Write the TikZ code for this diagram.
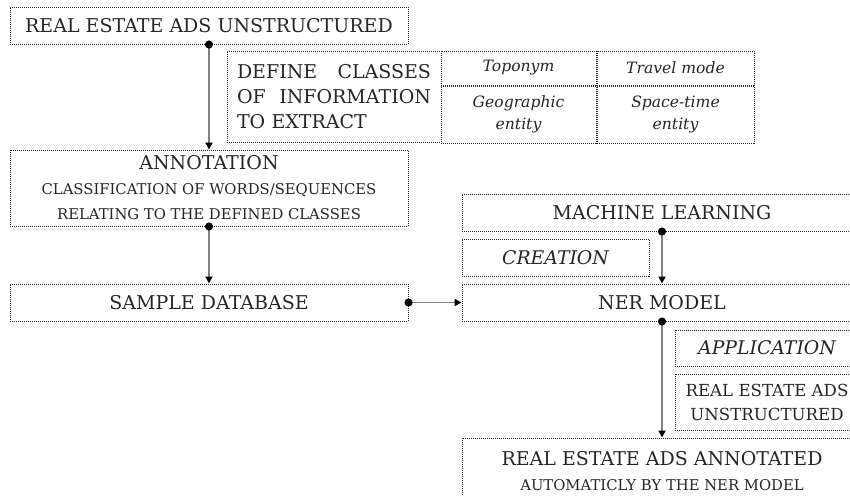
\documentclass[tikz,border=0pt]{standalone}
\usepackage{fontspec}
\setmainfont{DejaVu Serif}
\usetikzlibrary{arrows.meta,positioning}
\tikzset{
    dotted-box/.style = {draw=black!85, text=black!85, line width=0.5pt, dash pattern=on 0.5pt off 0.5pt, rectangle, inner sep=0pt, align=center, font=\fontsize{9.5}{12.5}\selectfont},
    cell-text/.style = {dotted-box, font=\fontsize{7.8}{11}\selectfont\itshape},
    flow-arrow/.style = {draw=black!50, line width=0.9pt, {Circle[black,length=4pt]}-{Triangle[black,length=3.5pt,width=3.5pt]}, shorten <=-2pt},
}
\newcommand{\subline}[1]{{\fontsize{7.4}{10.5}\selectfont #1}}

\begin{document}
\begin{tikzpicture}[x=0.5pt,y=-0.5pt]
\useasboundingbox (0,0) rectangle (850,495);
\clip (0,0) rectangle (850,495);

% left column
\node[dotted-box, minimum width=199pt, minimum height=18.5pt] (ads-raw) at (209,25.5) {REAL ESTATE ADS UNSTRUCTURED};
\node[dotted-box, minimum width=107pt, minimum height=45.5pt, text width=97pt, align=left] (classes) at (334,96.5) {DEFINE\hfill CLASSES\\OF\hfill INFORMATION\\TO EXTRACT};
\node[dotted-box, minimum width=199pt, minimum height=38pt] (annotation) at (209,188) {ANNOTATION\\ \subline{CLASSIFICATION OF WORDS/SEQUENCES}\\ \subline{RELATING TO THE DEFINED CLASSES}};
\node[dotted-box, minimum width=199pt, minimum height=18.5pt] (sample) at (209,302.5) {SAMPLE DATABASE};

% classes table
\node[cell-text, minimum width=77.5pt, minimum height=17pt] (toponym) at (518.5,68) {Toponym};
\node[cell-text, minimum width=78.5pt, minimum height=17pt, right=0pt of toponym] (travel) {Travel mode};
\node[cell-text, minimum width=77.5pt, minimum height=28.5pt, below=0pt of toponym] (geo) {Geographic\\entity};
\node[cell-text, minimum width=78.5pt, minimum height=28.5pt, below=0pt of travel] (spacetime) {Space-time\\entity};

% right column
\node[dotted-box, minimum width=200pt, minimum height=18.5pt] (ml) at (662,212.5) {MACHINE LEARNING};
\node[dotted-box, minimum width=93.5pt, minimum height=18.5pt, font=\fontsize{9.4}{12}\selectfont\itshape] (creation) at (555.5,257.5) {CREATION};
\node[dotted-box, minimum width=200pt, minimum height=18.5pt] (ner) at (662,302.5) {NER MODEL};
\node[dotted-box, minimum width=92pt, minimum height=18pt, font=\fontsize{9.4}{12}\selectfont\itshape] (application) at (767,348) {APPLICATION};
\node[dotted-box, minimum width=92pt, minimum height=28pt, font=\fontsize{8.3}{12}\selectfont] (ads-new) at (767,402) {REAL ESTATE ADS\\UNSTRUCTURED};
\node[dotted-box, minimum width=200pt, minimum height=33pt] (annotated) at (662,471) {REAL ESTATE ADS ANNOTATED\\ \subline{AUTOMATICLY BY THE NER MODEL}};

\draw[flow-arrow] (ads-raw.south) -- (annotation.north);
\draw[flow-arrow] (annotation.south) -- (sample.north);
\draw[flow-arrow] (sample.east) -- (ner.west);
\draw[flow-arrow] (ml.south) -- (ner.north);
\draw[flow-arrow] (ner.south) -- (annotated.north);
\end{tikzpicture}
\end{document}
